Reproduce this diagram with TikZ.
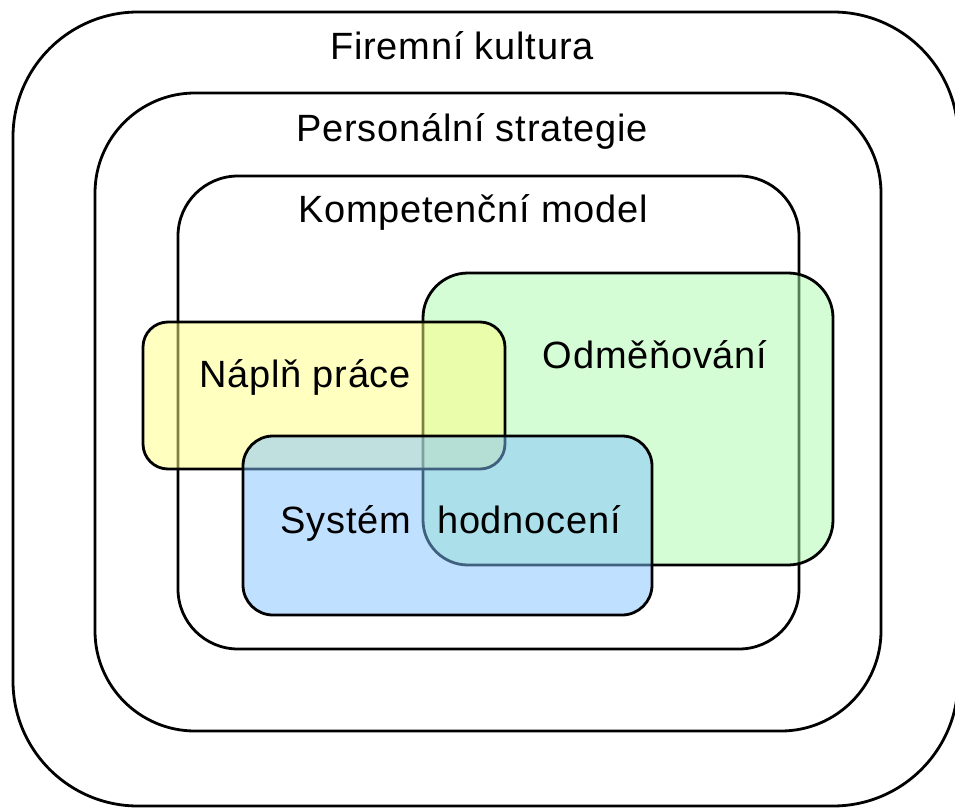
\documentclass[tikz,border=0pt]{standalone}
\usepackage{fontspec}
\setmainfont[LetterSpace=2]{Liberation Sans}
\begin{document}
\begin{tikzpicture}[x=1pt,y=-1pt,
  box/.style={draw=black,line width=2.8pt},
  lbl/.style={anchor=base,font=\fontsize{38}{44}\selectfont,inner sep=0pt}]
\useasboundingbox (0,0) rectangle (955,810);
\clip (0,0) rectangle (955,810);
% outer frames
\draw[box, rounded corners=125pt] (13,12) rectangle (958,806);
\draw[box, rounded corners=100pt] (95,93) rectangle (881,731);
\draw[box, rounded corners=60pt] (178,176) rectangle (799,649);
% overlapping coloured boxes
\draw[box, fill={rgb,255:red,171;green,251;blue,171}, fill opacity=0.5, rounded corners=45pt] (423,273) rectangle (833,565);
\draw[box, fill={rgb,255:red,255;green,255;blue,129}, fill opacity=0.5, rounded corners=25pt] (143,322) rectangle (505,469);
\draw[box, fill={rgb,255:red,129;green,193;blue,255}, fill opacity=0.5, rounded corners=30pt] (243,436) rectangle (652,615);
% labels
\node[lbl] (fk) at (462,60) {Firemní kultura};
\node[lbl] (ps) at (472,142) {Personální strategie};
\node[lbl] (km) at (473,223) {Kompetenční model};
\node[lbl] (np) at (305,387) {Náplň práce};
\node[lbl] (od) at (655,368) {Odměňování};
\node[lbl] (sy) at (346,533) {Systém};
\node[lbl] (hd) at (529,533) {hodnocení};
\end{tikzpicture}
\end{document}
